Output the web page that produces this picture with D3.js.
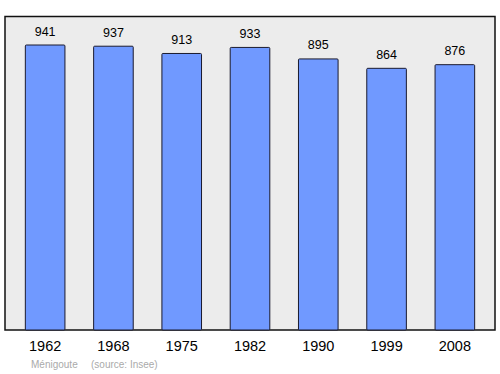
<!DOCTYPE html>
<style>
body { margin: 0; }
text { font-family: "Liberation Sans", Arial, sans-serif; }
</style>
<svg width="500" height="374"></svg>
<script src="https://d3js.org/d3.v7.min.js"></script>
<script>

var years = ["1962", "1968", "1975", "1982", "1990", "1999", "2008"];
var population = [941, 937, 913, 933, 895, 864, 876];

var svg = d3.select("svg"),
    frame = {left: 5, top: 16.5, right: 495, bottom: 330};

// plot background
svg.append("rect")
    .attr("x", frame.left)
    .attr("y", frame.top)
    .attr("width", frame.right - frame.left)
    .attr("height", frame.bottom - frame.top)
    .attr("fill", "#ececec")
    .attr("stroke", "#111")
    .attr("stroke-width", 1.5);

var x = d3.scaleBand()
    .domain(years)
    .range([11, 489])
    .paddingInner(0.42)
    .paddingOuter(0.21);

var y = d3.scaleLinear()
    .domain([0, d3.max(population) * 1.1])
    .range([frame.bottom, frame.top]);

var data = years.map(function(d, i) { return {year: d, value: population[i]}; });

svg.append("g")
  .selectAll("rect")
  .data(data)
  .enter().append("rect")
    .attr("x", function(d) { return x(d.year); })
    .attr("y", function(d) { return y(d.value); })
    .attr("width", x.bandwidth())
    .attr("height", function(d) { return frame.bottom - y(d.value); })
    .attr("rx", 1)
    .attr("fill", "#7099ff")
    .attr("stroke", "#1a1a2e")
    .attr("stroke-width", 1);

// value labels
svg.append("g")
  .selectAll("text")
  .data(data)
  .enter().append("text")
    .attr("x", function(d) { return x(d.year) + x.bandwidth() / 2; })
    .attr("y", function(d) { return y(d.value) - 9.5; })
    .attr("text-anchor", "middle")
    .attr("font-size", 12.5)
    .attr("fill", "#000")
    .text(function(d) { return d.value; });

// x axis labels
svg.append("g")
    .attr("transform", "translate(0," + frame.bottom + ")")
    .call(d3.axisBottom(x).tickSize(0).tickPadding(11))
    .call(function(g) { g.select(".domain").remove(); })
    .selectAll("text")
      .attr("font-size", 14.5)
      .attr("font-family", "Liberation Sans, Arial, sans-serif")
      .attr("fill", "#000");

svg.append("text")
    .attr("x", 31)
    .attr("y", 368)
    .attr("font-size", 10)
    .attr("fill", "#aaa")
    .text("Ménigoute");

svg.append("text")
    .attr("x", 91)
    .attr("y", 368)
    .attr("font-size", 10)
    .attr("fill", "#aaa")
    .text("(source: Insee)");

</script>
